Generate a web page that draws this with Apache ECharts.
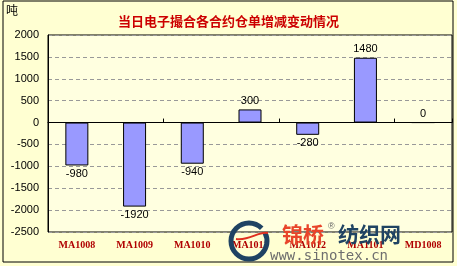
<!DOCTYPE html>
<html><head><meta charset="utf-8">
<script src="https://cdn.jsdelivr.net/npm/echarts@6/dist/echarts.min.js"></script>
<style>html,body{margin:0;padding:0;background:#fff;}#c{width:457px;height:266px;}</style>
</head><body><div id="c"></div>
<script>
var categories = ['MA1008','MA1009','MA1010','MA1011','MA1012','MA1101','MD1008'];
var values = [-980, -1920, -940, 300, -280, 1480, 0];
var yTicks = {min: -2500, max: 2000, interval: 500};
var titleText = '当日电子撮合各合约仓单增减变动情况';
var unitText = '吨';

var chart = echarts.init(document.getElementById('c'));
var barData = values.map(function(v){
  return {value: v, label: {position: v < 0 ? 'bottom' : 'top'}};
});
chart.setOption({
  animation: false,
  backgroundColor: '#FFFFD2',
  title: {text: titleText, left: 'center', top: 10, textStyle: {color: '#CC0000', fontSize: 13, fontWeight: 'bold', fontFamily: 'Noto Sans CJK SC'}},
  grid: {left: 48, right: 5, top: 35, bottom: 34, show: true, borderColor: '#000', borderWidth: 1, backgroundColor: '#FFFFE0'},
  xAxis: [{
    type: 'category', data: categories, position: 'bottom',
    axisLine: {show: false, onZero: false}, axisTick: {show: false},
    axisLabel: {color: '#B00000', fontFamily: 'Liberation Serif', fontWeight: 'bold', fontSize: 10, margin: 8}
  },{
    type: 'category', data: categories, position: 'bottom',
    axisLine: {show: true, onZero: true, lineStyle: {color: '#000', width: 1}},
    axisTick: {show: true, inside: true, length: 4, lineStyle: {color: '#000'}},
    axisLabel: {show: false}
  }],
  yAxis: {
    type: 'value', min: yTicks.min, max: yTicks.max, interval: yTicks.interval,
    axisLine: {show: true, lineStyle: {color: '#000'}}, axisTick: {show: false},
    axisLabel: {color: '#000', fontSize: 11, fontFamily: 'Liberation Sans', margin: 9, formatter: function(v){ return String(v); }},
    splitLine: {lineStyle: {color: '#999', type: [4, 3], width: 1}}
  },
  series: [{
    type: 'bar', data: barData, xAxisIndex: 0, barWidth: 23,
    itemStyle: {color: '#9999FF', borderColor: '#000', borderWidth: 1},
    label: {show: true, color: '#000', fontSize: 11, fontFamily: 'Liberation Sans', distance: 3}
  }],
  graphic: [
    {type: 'rect', shape: {x: 3, y: 1, width: 450, height: 261}, style: {fill: 'none', stroke: '#000', lineWidth: 1}, z: 100},
    {type: 'text', left: 6, top: 4, style: {text: unitText, fill: '#000', font: '12px "Noto Sans CJK SC"'}, z: 100},
    {type: 'arc', shape: {cx: 249, cy: 241, r: 18, startAngle: -Math.PI*0.25, endAngle: Math.PI*1.85, clockwise: false}, style: {fill: 'none', stroke: '#1F4363', lineWidth: 5}, z: 100},
    {type: 'bezierCurve', shape: {x1: 236, y1: 239, x2: 268, y2: 233, cpx1: 250, cpy1: 241, cpx2: 258, cpy2: 231}, style: {stroke: '#E03020', lineWidth: 2, fill: 'none'}, z: 101},
    {type: 'text', x: 282, y: 224, style: {text: '锦桥', fill: '#E8442A', font: 'bold 21px "Noto Sans CJK SC"'}, z: 100},
    {type: 'text', x: 328, y: 222, style: {text: '®', fill: '#666', font: '9px "Liberation Sans"'}, z: 100},
    {type: 'text', x: 338, y: 224, style: {text: '纺织网', fill: '#1F4363', font: 'bold 21px "Noto Sans CJK SC"'}, z: 100},
    {type: 'text', x: 270, y: 249, style: {text: 'www.sinotex.cn', fill: '#6E6E6E', font: '14px "DejaVu Sans Mono"'}, z: 100}
  ]
});
</script></body></html>
